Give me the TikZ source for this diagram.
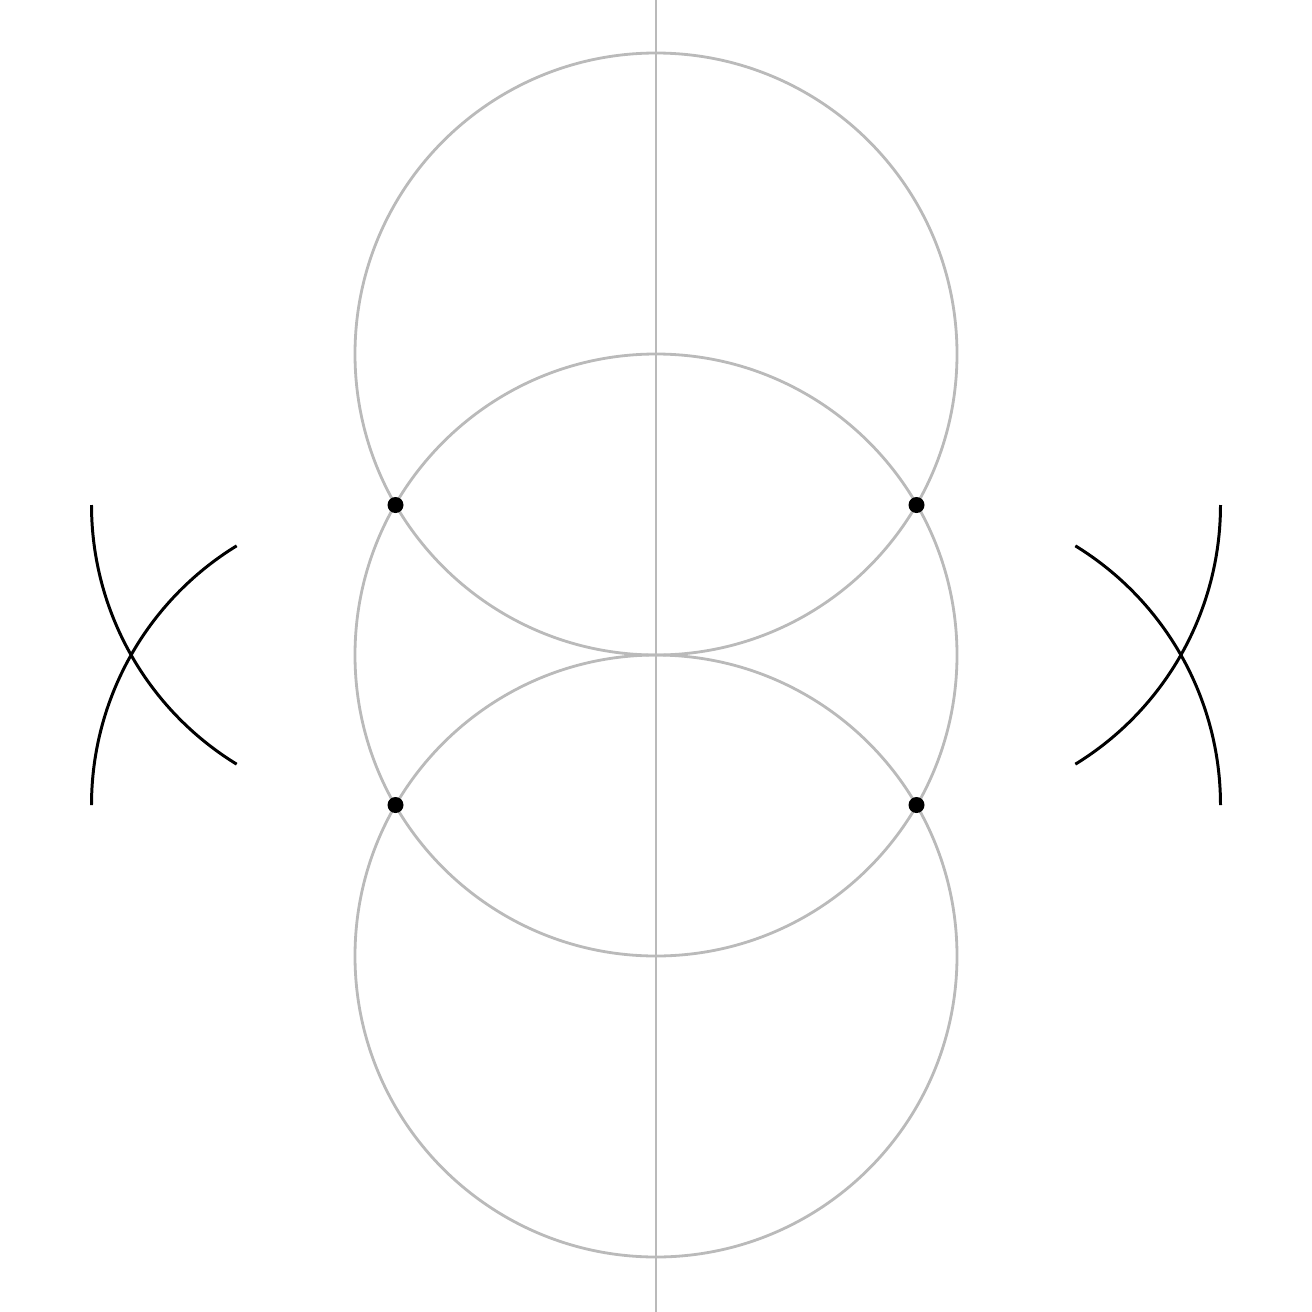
\documentclass[tikz,border=0pt]{standalone}
\begin{document}
\begin{tikzpicture}[x=0.02cm,y=-0.02cm,
  guide/.style={draw=black!27,line width=1.6pt},
  arcline/.style={draw=black,line width=1.7pt},
  dotmark/.style={fill=black}]
\useasboundingbox (0,0) rectangle (1312,1312);
\coordinate (c1) at (656,354);
\coordinate (c2) at (656,655);
\coordinate (c3) at (656,956);
\coordinate (p1) at (395.5,505);
\coordinate (p2) at (916.5,505);
\coordinate (p3) at (395.5,805);
\coordinate (p4) at (916.5,805);
\draw[guide] (656,0) -- (656,1312);
\draw[guide] (c1) circle[radius=301*0.02cm];
\draw[guide] (c2) circle[radius=301*0.02cm];
\draw[guide] (c3) circle[radius=301*0.02cm];
% construction arcs (TikZ angles measured with y downward flipped)
\draw[arcline] (p1) ++(-304,0) arc[start angle=180,end angle=238.5,radius=304*0.02cm];
\draw[arcline] (p3) ++(-304,0) arc[start angle=180,end angle=121.5,radius=304*0.02cm];
\draw[arcline] (p2) ++(304,0) arc[start angle=0,end angle=-58.5,radius=304*0.02cm];
\draw[arcline] (p4) ++(304,0) arc[start angle=0,end angle=58.5,radius=304*0.02cm];
\foreach \p in {p1,p2,p3,p4} \fill[dotmark] (\p) circle[radius=0.16cm];
\end{tikzpicture}
\end{document}
